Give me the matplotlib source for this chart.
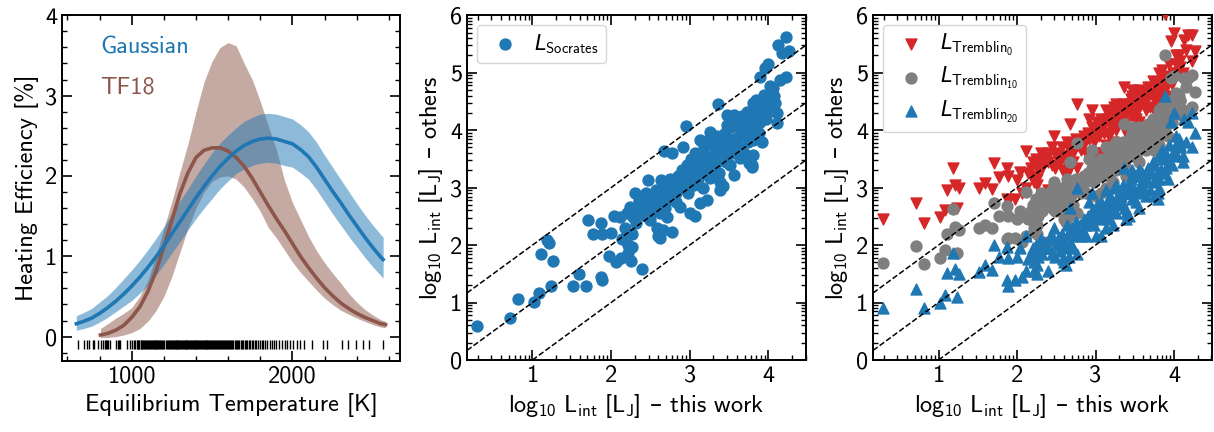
import numpy as np
import matplotlib
matplotlib.use("Agg")
import matplotlib.pyplot as plt
from matplotlib.ticker import FixedLocator, MultipleLocator

plt.rcParams['font.family'] = ['cmss10', 'DejaVu Sans']
plt.rcParams['mathtext.fontset'] = 'custom'
plt.rcParams['mathtext.rm'] = 'cmss10'
plt.rcParams['mathtext.it'] = 'DejaVu Sans:italic'
plt.rcParams['mathtext.sf'] = 'DejaVu Sans'
plt.rcParams['axes.unicode_minus'] = False
plt.rcParams['axes.formatter.use_mathtext'] = False

# heating efficiency vs equilibrium temperature
t_gauss = [655, 700, 750, 800, 850, 900, 950, 1000, 1050, 1100, 1150, 1200, 1250, 1300, 1350, 1400,
           1450, 1500, 1550, 1600, 1650, 1700, 1750, 1800, 1850, 1900, 1950, 2000, 2050, 2100, 2150,
           2200, 2250, 2300, 2350, 2400, 2450, 2500, 2550, 2565]
eff_gauss = [0.16, 0.19, 0.23, 0.29, 0.36, 0.44, 0.53, 0.63, 0.74, 0.86, 0.99, 1.13, 1.28, 1.43, 1.58, 1.73,
             1.87, 2.00, 2.12, 2.22, 2.31, 2.38, 2.43, 2.46, 2.47, 2.46, 2.43, 2.40, 2.33, 2.24, 2.11,
             1.96, 1.81, 1.67, 1.52, 1.38, 1.24, 1.11, 0.99, 0.96]
eff_gauss_hi = [0.26, 0.30, 0.35, 0.43, 0.51, 0.61, 0.72, 0.83, 0.95, 1.08, 1.22, 1.37, 1.53, 1.69, 1.84, 2.00,
                2.15, 2.29, 2.41, 2.51, 2.60, 2.68, 2.73, 2.77, 2.78, 2.77, 2.74, 2.71, 2.64, 2.55, 2.42,
                2.26, 2.11, 1.96, 1.81, 1.66, 1.52, 1.39, 1.27, 1.24]
eff_gauss_lo = [0.08, 0.10, 0.13, 0.18, 0.24, 0.31, 0.38, 0.45, 0.54, 0.64, 0.76, 0.90, 1.04, 1.18, 1.33, 1.47,
                1.60, 1.72, 1.84, 1.94, 2.03, 2.09, 2.13, 2.16, 2.17, 2.16, 2.13, 2.11, 2.04, 1.96, 1.83,
                1.68, 1.53, 1.39, 1.25, 1.12, 0.99, 0.87, 0.76, 0.73]

t_tf18 = [805, 850, 900, 950, 1000, 1050, 1100, 1150, 1200, 1250, 1300, 1350, 1400, 1450, 1500, 1550,
          1600, 1650, 1700, 1750, 1800, 1850, 1900, 1950, 2000, 2050, 2100, 2150, 2200, 2250, 2300,
          2350, 2400, 2450, 2500, 2550, 2580]
eff_tf18 = [0.02, 0.04, 0.08, 0.14, 0.24, 0.37, 0.56, 0.81, 1.12, 1.45, 1.78, 2.04, 2.23, 2.32, 2.35, 2.35,
            2.31, 2.23, 2.12, 1.97, 1.80, 1.63, 1.47, 1.32, 1.16, 1.00, 0.86, 0.73, 0.61, 0.51, 0.42,
            0.35, 0.29, 0.24, 0.20, 0.16, 0.15]
eff_tf18_hi = [0.10, 0.16, 0.23, 0.29, 0.36, 0.50, 0.70, 1.00, 1.35, 1.68, 2.05, 2.40, 2.80, 3.17, 3.43, 3.60,
               3.66, 3.62, 3.40, 3.20, 2.93, 2.62, 2.33, 1.95, 1.67, 1.46, 1.25, 1.07, 0.92, 0.79, 0.67,
               0.54, 0.43, 0.34, 0.27, 0.21, 0.19]
eff_tf18_lo = [-0.01, -0.01, 0.00, 0.02, 0.05, 0.10, 0.19, 0.32, 0.50, 0.75, 1.05, 1.35, 1.60, 1.80, 1.93, 1.99,
               2.00, 1.96, 1.86, 1.72, 1.56, 1.36, 1.23, 1.08, 0.93, 0.80, 0.69, 0.58, 0.48, 0.40, 0.33,
               0.28, 0.23, 0.19, 0.15, 0.12, 0.11]

# equilibrium temperatures of the planet sample
t_eq = [664, 705, 724, 736, 761, 767, 792, 807, 823, 836, 840, 848, 855, 865, 902, 913, 919, 927, 969, 989,
        1000, 1012, 1021, 1030, 1036, 1041, 1047, 1055, 1060, 1066, 1071, 1078, 1084, 1090, 1094, 1101,
        1107, 1112, 1118, 1124, 1131, 1136, 1142, 1148, 1153, 1160, 1166, 1171, 1178, 1185, 1191, 1196,
        1203, 1216, 1222, 1227, 1233, 1240, 1245, 1251, 1256, 1262, 1267, 1273, 1279, 1284, 1290, 1296,
        1301, 1307, 1312, 1318, 1323, 1329, 1335, 1340, 1346, 1352, 1357, 1363, 1369, 1374, 1380, 1386,
        1391, 1397, 1403, 1408, 1414, 1420, 1425, 1431, 1437, 1442, 1448, 1454, 1460, 1465, 1471, 1477,
        1482, 1488, 1494, 1500, 1506, 1512, 1518, 1524, 1530, 1536, 1542, 1548, 1554, 1561, 1567, 1573,
        1580, 1586, 1592, 1599, 1605, 1612, 1619, 1625, 1632, 1640, 1647, 1655, 1662, 1670, 1678, 1686,
        1695, 1703, 1712, 1720, 1729, 1738, 1747, 1757, 1766, 1776, 1786, 1797, 1808, 1820, 1832, 1845,
        1858, 1872, 1885, 1900, 1919, 1934, 1955, 1969, 1986, 2006, 2027, 2048, 2073, 2121, 2193, 2214,
        2307, 2349, 2397, 2442, 2480, 2561]

# log10 L_int, this work vs others
logl_this = [0.29, 0.71, 0.82, 1.02, 1.08, 1.11, 1.18, 1.21, 1.24, 1.26, 1.51, 1.59, 1.68, 1.71, 1.77, 1.87,
             1.88, 1.87, 1.89, 1.97, 2.00, 2.04, 2.06, 2.11, 2.12, 2.14, 2.18, 2.20, 2.22, 2.22, 2.24, 2.25,
             2.26, 2.27, 2.28, 2.30, 2.32, 2.33, 2.35, 2.37, 2.37, 2.39, 2.40, 2.41, 2.44, 2.45, 2.47, 2.49,
             2.50, 2.52, 2.54, 2.55, 2.57, 2.58, 2.60, 2.60, 2.62, 2.62, 2.64, 2.65, 2.66, 2.67, 2.68, 2.70,
             2.71, 2.71, 2.73, 2.75, 2.77, 2.77, 2.78, 2.80, 2.82, 2.83, 2.85, 2.87, 2.88, 2.90, 2.92, 2.92,
             2.93, 2.95, 2.96, 2.98, 3.00, 3.00, 3.02, 3.03, 3.05, 3.07, 3.07, 3.09, 3.10, 3.11, 3.13, 3.13,
             3.14, 3.17, 3.17, 3.18, 3.20, 3.22, 3.22, 3.24, 3.26, 3.26, 3.26, 3.28, 3.30, 3.32, 3.32, 3.34,
             3.35, 3.36, 3.37, 3.39, 3.39, 3.39, 3.41, 3.43, 3.43, 3.43, 3.45, 3.46, 3.47, 3.47, 3.49, 3.51,
             3.52, 3.54, 3.56, 3.56, 3.57, 3.59, 3.60, 3.62, 3.64, 3.64, 3.65, 3.67, 3.69, 3.71, 3.73, 3.74,
             3.75, 3.76, 3.77, 3.78, 3.79, 3.79, 3.81, 3.81, 3.81, 3.83, 3.85, 3.86, 3.88, 3.89, 3.90, 3.91,
             3.92, 3.94, 3.94, 3.96, 3.97, 3.99, 4.00, 4.02, 4.02, 4.04, 4.06, 4.07, 4.08, 4.11, 4.11, 4.13,
             4.15, 4.18, 4.23, 4.23, 4.27]
logl_socrates = [0.59, 0.73, 1.06, 1.01, 1.17, 1.84, 2.09, 2.03, 1.29, 1.73, 1.28, 1.50, 1.28, 2.44, 2.19, 1.45,
                 1.40, 2.38, 2.19, 1.81, 2.21, 2.51, 1.70, 2.48, 1.77, 2.10, 2.30, 2.55, 1.86, 2.00, 2.67, 1.72,
                 1.97, 2.20, 2.49, 2.90, 2.38, 2.55, 2.78, 2.67, 2.73, 1.58, 2.60, 2.84, 2.50, 2.90, 3.13, 2.44,
                 2.70, 2.85, 2.73, 2.60, 2.95, 2.29, 2.15, 2.75, 2.12, 2.55, 3.13, 2.90, 2.26, 3.63, 2.65, 3.00,
                 2.79, 2.49, 2.85, 3.15, 3.60, 2.23, 2.95, 3.05, 2.75, 2.90, 3.20, 3.00, 2.67, 3.30, 3.70, 3.02,
                 3.15, 4.07, 3.40, 2.90, 3.13, 2.55, 3.50, 3.25, 3.05, 2.50, 3.60, 3.31, 3.40, 3.15, 2.73, 3.83,
                 3.55, 3.48, 2.99, 3.70, 3.25, 2.79, 3.34, 3.85, 3.54, 3.97, 3.16, 3.35, 3.45, 3.71, 3.60, 3.42,
                 3.90, 4.45, 3.25, 3.63, 3.10, 2.96, 3.75, 3.60, 3.80, 3.02, 3.95, 3.45, 4.26, 4.09, 3.70, 3.39,
                 4.05, 3.60, 4.26, 3.22, 3.85, 4.15, 3.86, 3.70, 4.09, 3.51, 3.95, 4.25, 3.60, 4.05, 4.32, 3.80,
                 3.42, 4.20, 3.92, 4.00, 3.36, 3.40, 4.47, 3.57, 3.83, 4.10, 4.53, 4.30, 3.95, 4.93, 4.15, 4.40,
                 3.80, 4.61, 4.29, 5.08, 4.20, 4.45, 5.16, 4.76, 4.58, 4.35, 4.73, 4.60, 4.47, 4.29, 4.12, 5.48,
                 4.87, 5.34, 5.63, 4.93, 5.37]
logl_tremblin0 = [2.45, 2.74, 2.39, 2.48, 2.61, 2.96, 3.34, 3.05, 2.64, 3.00, 2.99, 3.08, 2.97, 3.42, 3.19, 2.81,
                  2.77, 3.35, 3.20, 2.81, 3.13, 3.28, 2.90, 3.63, 3.00, 3.25, 3.35, 3.45, 3.10, 3.20, 3.50, 3.05,
                  3.15, 3.30, 3.40, 3.60, 3.35, 3.45, 3.55, 3.50, 3.52, 2.95, 3.45, 3.60, 3.40, 3.70, 3.90, 3.35,
                  3.55, 3.60, 3.50, 3.45, 3.70, 3.30, 3.25, 3.55, 3.20, 3.45, 3.80, 3.70, 3.30, 4.10, 3.55, 3.75,
                  3.60, 3.45, 3.65, 3.85, 4.45, 3.35, 3.75, 3.80, 3.65, 3.75, 3.90, 3.80, 3.60, 3.95, 4.20, 3.85,
                  3.90, 4.35, 4.05, 3.80, 3.95, 3.60, 4.15, 4.00, 3.90, 3.60, 4.20, 4.05, 4.10, 3.95, 3.75, 4.35,
                  4.20, 4.15, 3.90, 4.30, 4.05, 3.80, 4.10, 4.40, 4.25, 4.45, 4.00, 4.10, 4.20, 4.35, 4.30, 4.20,
                  4.45, 4.75, 4.10, 4.30, 4.00, 3.95, 4.40, 4.30, 4.45, 3.95, 4.55, 4.25, 4.70, 4.60, 4.40, 4.20,
                  4.60, 4.35, 4.70, 4.15, 4.50, 4.65, 4.50, 4.45, 4.65, 4.35, 4.55, 4.75, 4.40, 4.65, 4.85, 4.55,
                  4.35, 4.80, 4.60, 4.65, 4.30, 4.35, 5.00, 4.45, 4.60, 4.75, 5.05, 4.90, 4.70, 6.02, 4.80, 4.95,
                  4.60, 5.15, 4.90, 5.55, 4.80, 5.00, 5.69, 5.30, 5.15, 5.00, 5.30, 5.20, 5.10, 5.00, 4.90, 5.57,
                  5.40, 5.66, 5.65, 5.20, 5.37]
logl_tremblin10 = [1.68, 1.99, 1.67, 1.77, 1.91, 2.19, 2.62, 2.32, 1.86, 2.26, 2.29, 2.35, 2.29, 2.73, 2.51, 2.10,
                   2.13, 2.68, 2.50, 2.12, 2.45, 2.60, 2.05, 2.93, 2.15, 2.45, 2.60, 2.70, 2.30, 2.40, 2.80, 2.20,
                   2.35, 2.50, 2.65, 2.90, 2.60, 2.70, 2.85, 2.75, 2.80, 2.05, 2.70, 2.90, 2.65, 2.95, 3.10, 2.60,
                   2.80, 2.90, 2.80, 2.70, 3.00, 2.55, 2.45, 2.85, 2.40, 2.70, 3.15, 3.00, 2.50, 3.45, 2.80, 3.05,
                   2.90, 2.70, 2.95, 3.15, 3.78, 2.55, 3.05, 3.10, 2.90, 3.00, 3.20, 3.10, 2.90, 3.25, 3.50, 3.15,
                   3.20, 3.65, 3.35, 3.10, 3.25, 2.85, 3.45, 3.30, 3.20, 2.90, 3.50, 3.35, 3.40, 3.25, 3.00, 3.70,
                   3.50, 3.45, 3.20, 3.60, 3.35, 3.10, 3.40, 3.75, 3.55, 3.80, 3.30, 3.45, 3.50, 3.65, 3.60, 3.50,
                   3.80, 4.10, 3.40, 3.65, 3.30, 3.20, 3.75, 3.65, 3.80, 3.25, 3.90, 3.55, 4.05, 3.95, 3.70, 3.55,
                   3.95, 3.70, 4.05, 3.45, 3.85, 4.00, 3.85, 3.75, 4.00, 3.65, 3.90, 4.10, 3.75, 4.00, 4.20, 3.85,
                   3.65, 4.10, 3.95, 4.00, 3.60, 3.65, 4.35, 3.75, 3.90, 4.05, 4.40, 4.25, 4.00, 5.31, 4.10, 4.30,
                   3.90, 4.50, 4.25, 4.90, 4.15, 4.35, 4.95, 4.65, 4.50, 4.30, 4.60, 4.50, 4.53, 4.35, 4.25, 4.90,
                   4.75, 4.90, 4.96, 4.41, 4.67]
logl_tremblin20 = [0.90, 1.23, 0.90, 0.99, 1.13, 1.51, 1.87, 1.58, 1.10, 1.50, 1.54, 1.65, 1.57, 2.00, 1.80, 1.40,
                   1.29, 1.97, 1.78, 1.39, 1.80, 1.95, 1.45, 2.16, 1.55, 1.75, 1.85, 1.95, 1.55, 1.70, 2.00, 1.50,
                   1.65, 1.80, 1.90, 2.10, 1.85, 1.95, 2.05, 1.95, 2.00, 1.55, 1.95, 2.10, 1.85, 2.15, 2.30, 1.80,
                   2.00, 2.10, 2.00, 1.90, 2.20, 1.75, 1.70, 2.05, 1.65, 1.95, 2.35, 2.20, 1.80, 2.65, 2.05, 2.30,
                   2.15, 1.95, 2.20, 2.40, 2.99, 1.85, 2.30, 2.35, 2.15, 2.25, 2.45, 2.35, 2.15, 2.50, 2.75, 2.40,
                   2.45, 2.90, 2.60, 2.35, 2.50, 2.15, 2.70, 2.55, 2.45, 2.15, 2.75, 2.60, 2.65, 2.50, 2.30, 2.95,
                   2.75, 2.70, 2.45, 2.85, 2.60, 2.35, 2.65, 3.00, 2.80, 3.05, 2.55, 2.70, 2.75, 2.90, 2.85, 2.75,
                   3.05, 3.35, 2.65, 2.90, 2.55, 2.45, 3.00, 2.90, 3.05, 2.50, 3.15, 2.80, 3.30, 3.20, 2.95, 2.75,
                   3.20, 2.90, 3.30, 2.65, 3.05, 3.25, 3.10, 2.95, 3.25, 2.85, 3.15, 3.35, 2.95, 3.25, 3.45, 3.10,
                   2.85, 3.40, 3.15, 3.25, 2.80, 2.90, 3.55, 3.00, 3.15, 3.30, 3.65, 3.50, 3.25, 4.60, 3.35, 3.55,
                   3.15, 3.75, 3.45, 4.15, 3.40, 3.60, 4.29, 3.90, 3.75, 3.55, 3.85, 3.75, 3.70, 3.55, 3.45, 4.20,
                   3.80, 4.15, 4.29, 3.71, 3.95]

blue = '#1f77b4'
brown = '#8c564b'
red = '#d62728'
grey = '#7f7f7f'
fs = 17.5
ms = 62

fig = plt.figure(figsize=(12.14, 4.32), dpi=100)
ax1 = fig.add_axes([0.0511, 0.165, 0.2784, 0.7996])
ax2 = fig.add_axes([0.3849, 0.1667, 0.279, 0.798])
ax3 = fig.add_axes([0.7194, 0.1667, 0.2787, 0.798])

# left: efficiency curves with uncertainty bands
ax1.fill_between(t_tf18, eff_tf18_lo, eff_tf18_hi, color=brown, alpha=0.5, lw=0)
ax1.fill_between(t_gauss, eff_gauss_lo, eff_gauss_hi, color=blue, alpha=0.5, lw=0)
ax1.plot(t_tf18, eff_tf18, color=brown, lw=2.6)
ax1.plot(t_gauss, eff_gauss, color=blue, lw=2.6)
ax1.vlines(t_eq, -0.16, -0.04, color='k', lw=1)
ax1.text(805, 3.6, 'Gaussian', color=blue, fontsize=fs, va='center')
ax1.text(805, 3.1, 'TF18', color=brown, fontsize=fs, va='center')
ax1.set_xlim(566, 2670)
ax1.set_ylim(-0.3, 4)
ax1.xaxis.set_major_locator(FixedLocator([1000, 2000]))
ax1.xaxis.set_minor_locator(MultipleLocator(200))
ax1.yaxis.set_major_locator(MultipleLocator(1))
ax1.yaxis.set_minor_locator(MultipleLocator(0.2))
ax1.set_xlabel('Equilibrium Temperature [K]', fontsize=fs)
ax1.set_ylabel('Heating Efficiency [%]', fontsize=fs)

# log-style minor ticks between integer decades
minor = [n + np.log10(k) for n in range(0, 7) for k in range(2, 10)]
one_to_one = np.array([0, 5])
lint = r'$\mathrm{log}_{10}\ \mathrm{L}_{\mathrm{int}}\ [\mathrm{L}_{\mathrm{J}}]$ $\mathsf{–}$'

ax2.scatter(logl_this, logl_socrates, s=ms, color=blue, label=r'$L_{\mathrm{Socrates}}$', zorder=3)

ax3.scatter(logl_this, logl_tremblin0, s=ms, marker='v', color=red, label=r'$L_{\mathrm{Tremblin}_0}$', zorder=3)
ax3.scatter(logl_this, logl_tremblin10, s=ms, marker='o', color=grey, label=r'$L_{\mathrm{Tremblin}_{10}}$', zorder=3)
ax3.scatter(logl_this, logl_tremblin20, s=ms, marker='^', color=blue, label=r'$L_{\mathrm{Tremblin}_{20}}$', zorder=3)

for ax in (ax2, ax3):
    for off in (1, 0, -1):
        ax.plot(one_to_one, one_to_one + off, 'k--', lw=1.1, zorder=4)
    ax.set_xlim(0.17, 4.48)
    ax.set_ylim(0, 6)
    ax.xaxis.set_major_locator(FixedLocator([1, 2, 3, 4]))
    ax.yaxis.set_major_locator(MultipleLocator(1))
    ax.xaxis.set_minor_locator(FixedLocator(minor))
    ax.yaxis.set_minor_locator(FixedLocator(minor))
    ax.set_xlabel(lint + ' this work', fontsize=fs)
    ax.set_ylabel(lint + ' others', fontsize=fs)
    ax.legend(loc='upper left', fontsize=15, handletextpad=0.4, borderpad=0.35,
              labelspacing=0.35, borderaxespad=0.45)

for ax in (ax1, ax2, ax3):
    ax.tick_params(which='both', direction='in', top=True, right=True, labelsize=fs)
    ax.tick_params(which='major', length=7, width=1.2)
    ax.tick_params(which='minor', length=3.5, width=1)
    for sp in ax.spines.values():
        sp.set_linewidth(1.4)

fig.savefig('out.png', dpi=100)
